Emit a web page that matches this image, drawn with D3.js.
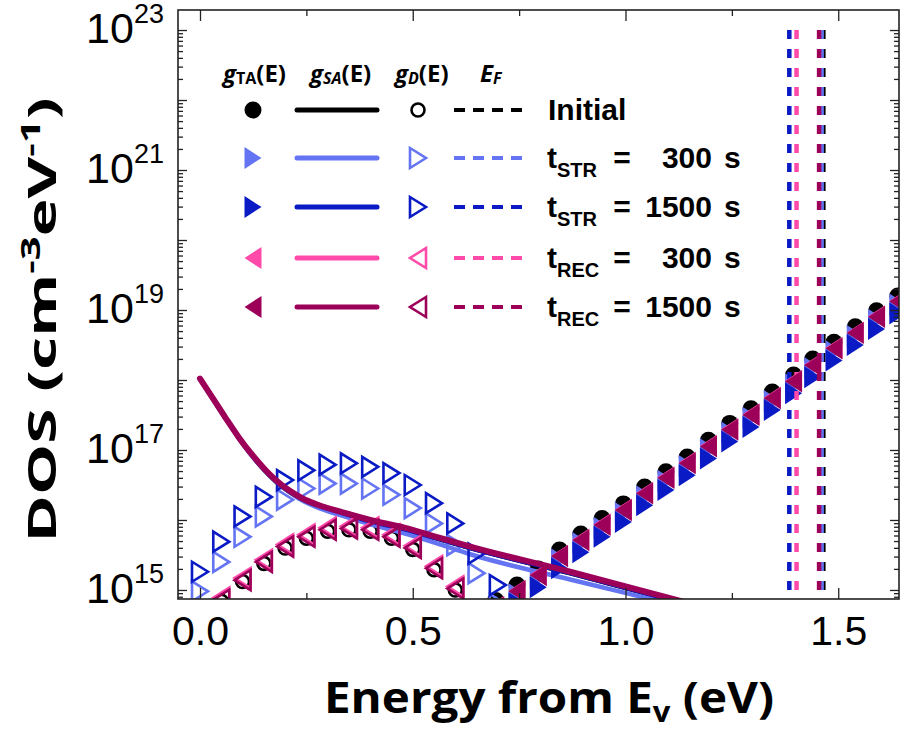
<!DOCTYPE html>
<html><head><meta charset="utf-8">
<script src="https://cdn.jsdelivr.net/npm/d3@7"></script>
<style>body{margin:0;background:#fff}svg{display:block}</style>
</head><body>
<svg id="c" width="908" height="738"></svg>
<script>
// ---------------- DATA (log10 of DOS, cm^-3 eV^-1) ----------------
const seriesKeys = ["Initial", "STR300", "STR1500", "REC300", "REC1500"];
const seriesSub = ["", "STR", "STR", "REC", "REC"];
const seriesTime = ["", "300", "1500", "300", "1500"];
// Fermi level positions (eV)
const efEnergy = [1.465, 1.461, 1.385, 1.402, 1.455];

// g_SA(E): shallow acceptor-like states (solid lines)
const saEnergy  = [0.00, 0.03, 0.06, 0.09, 0.12, 0.15, 0.18, 0.21, 0.24, 0.28, 0.33, 0.40, 0.48, 0.555, 0.635, 0.87, 1.10, 1.20];
const saInitial = [18.01, 17.73, 17.45, 17.18, 16.93, 16.71, 16.53, 16.39, 16.28, 16.18, 16.09, 15.97, 15.86, 15.73, 15.59, 15.23, 14.86, 14.70];
const saSTR300  = [18.02, 17.73, 17.45, 17.18, 16.93, 16.72, 16.54, 16.40, 16.28, 16.17, 16.07, 15.94, 15.81, 15.67, 15.51, 15.15, 14.81, 14.66];
const saSTR1500 = [18.02, 17.74, 17.46, 17.19, 16.94, 16.73, 16.55, 16.41, 16.30, 16.20, 16.11, 15.98, 15.87, 15.74, 15.60, 15.24, 14.87, 14.71];
const saREC300  = [18.02, 17.74, 17.46, 17.19, 16.95, 16.74, 16.56, 16.42, 16.31, 16.21, 16.12, 16.00, 15.89, 15.76, 15.62, 15.26, 14.89, 14.73];
const saREC1500 = [18.02, 17.74, 17.46, 17.19, 16.95, 16.74, 16.56, 16.42, 16.31, 16.21, 16.12, 16.00, 15.89, 15.76, 15.62, 15.26, 14.89, 14.73];

// g_D(E): deep states (open markers)
const dEnergy = [0.00, 0.05, 0.10, 0.15, 0.20, 0.25, 0.30, 0.35, 0.40, 0.45, 0.50, 0.55, 0.60, 0.65, 0.70];
const dInitial = [14.53, 14.84, 15.12, 15.38, 15.60, 15.74, 15.84, 15.86, 15.84, 15.74, 15.58, 15.29, 15.00, 14.66, 14.28];
const dSTR300  = [14.98, 15.40, 15.76, 16.05, 16.29, 16.45, 16.52, 16.52, 16.45, 16.36, 16.17, 15.95, 15.64, 15.24, 14.80];
const dSTR1500 = [15.26, 15.69, 16.05, 16.33, 16.57, 16.71, 16.79, 16.81, 16.76, 16.67, 16.50, 16.24, 15.95, 15.52, 15.07];
const dREC300  = [14.58, 14.89, 15.17, 15.43, 15.65, 15.79, 15.89, 15.91, 15.89, 15.79, 15.63, 15.34, 15.05, 14.71, 14.33];
const dREC1500 = [14.55, 14.86, 15.14, 15.40, 15.62, 15.76, 15.86, 15.88, 15.86, 15.76, 15.60, 15.31, 15.02, 14.68, 14.30];

// g_TA(E): tail states (filled markers)
const taEnergy = [0.695, 0.745, 0.795, 0.845, 0.895, 0.945, 0.995, 1.045, 1.095, 1.145, 1.195, 1.245, 1.295, 1.345, 1.395, 1.44, 1.49, 1.54, 1.59, 1.64];
const taInitial = [14.85, 15.07, 15.30, 15.57, 15.80, 16.02, 16.23, 16.47, 16.69, 16.90, 17.14, 17.38, 17.59, 17.83, 18.07, 18.30, 18.54, 18.76, 18.99, 19.20];
const taSTR300  = [14.71, 14.94, 15.17, 15.44, 15.67, 15.89, 16.10, 16.34, 16.56, 16.77, 17.01, 17.25, 17.46, 17.70, 17.94, 18.17, 18.41, 18.63, 18.86, 19.08];
const taSTR1500 = [14.58, 14.81, 15.04, 15.31, 15.54, 15.76, 15.97, 16.21, 16.43, 16.64, 16.88, 17.12, 17.33, 17.57, 17.81, 18.04, 18.28, 18.50, 18.73, 18.95];
const taREC300  = [14.76, 14.99, 15.22, 15.49, 15.72, 15.94, 16.15, 16.39, 16.61, 16.82, 17.06, 17.30, 17.51, 17.75, 17.99, 18.22, 18.46, 18.68, 18.91, 19.13];
const taREC1500 = [14.75, 14.98, 15.21, 15.48, 15.71, 15.93, 16.14, 16.38, 16.60, 16.81, 17.05, 17.29, 17.50, 17.74, 17.98, 18.21, 18.45, 18.67, 18.90, 19.12];

const xTicks = [0, 0.5, 1.0, 1.5];
const xMinorTicks = [0.25, 0.75, 1.25];
const yLabelExps = [15, 17, 19, 21, 23];

// ---------------- STYLE ----------------
const colors = ["#000000", "#6474f2", "#0a1ac4", "#ff4aaa", "#9c0058"];
const markerKind = ["circle", "right", "right", "left", "left"];

const saSets = [saInitial, saSTR300, saSTR1500, saREC300, saREC1500];
const dSets = [dInitial, dSTR300, dSTR1500, dREC300, dREC1500];
const taSets = [taInitial, taSTR300, taSTR1500, taREC300, taREC1500];

const svg = d3.select("#c");
const L = 178, R = 899, T = 10, B = 599;
const x = d3.scaleLinear().domain([-0.0517, 1.6428]).range([L, R]);
const y = d3.scaleLog().domain([Math.pow(10, 14.871), Math.pow(10, 23.286)]).range([B, T]);

svg.append("defs").append("clipPath").attr("id", "clip")
  .append("rect").attr("x", L).attr("y", T).attr("width", R - L).attr("height", B - T);

function markerPath(kind, w, h) {
  if (kind === "right") return `M${-w/2},${-h/2}L${w/2},0L${-w/2},${h/2}Z`;
  return `M${w/2},${-h/2}L${-w/2},0L${w/2},${h/2}Z`;
}
function drawMarker(g, kind, cx, cy, color, filled) {
  if (kind === "circle") {
    g.append("circle").attr("cx", cx).attr("cy", cy).attr("r", filled ? 8.5 : 6.5)
      .attr("fill", filled ? color : "none").attr("stroke", color).attr("stroke-width", filled ? 0 : 2.6);
  } else {
    const w = filled ? 17 : 16, h = filled ? 22 : 20;
    g.append("path").attr("d", markerPath(kind, w, h)).attr("transform", `translate(${cx},${cy})`)
      .attr("fill", filled ? color : "none").attr("stroke", color)
      .attr("stroke-width", filled ? 0 : 2.6).attr("stroke-linejoin", "miter");
  }
}

const plot = svg.append("g").attr("clip-path", "url(#clip)");
const line = d3.line().x(d => x(d[0])).y(d => y(Math.pow(10, d[1]))).curve(d3.curveMonotoneX);

seriesKeys.forEach((k, i) => {
  const gi = plot.append("g");
  taEnergy.forEach((e, j) => drawMarker(gi, markerKind[i], x(e), y(Math.pow(10, taSets[i][j])), colors[i], true));
  gi.append("path").datum(saEnergy.map((e, j) => [e, saSets[i][j]]))
    .attr("d", line).attr("fill", "none").attr("stroke", colors[i])
    .attr("stroke-width", i === 0 ? 3.5 : (i === 4 ? 6 : 4.5)).attr("stroke-linecap", "round");
  dEnergy.forEach((e, j) => drawMarker(gi, markerKind[i], x(e), y(Math.pow(10, dSets[i][j])), colors[i], false));
  gi.append("line").attr("x1", x(efEnergy[i])).attr("x2", x(efEnergy[i]))
    .attr("y1", y(1e23)).attr("y2", B)
    .attr("stroke", colors[i]).attr("stroke-width", 4.5).attr("stroke-dasharray", "9,10");
});

// ---------------- AXES ----------------
function styleAxis(g) {
  g.select(".domain").remove();
  g.selectAll(".tick line").attr("stroke", "#222").attr("stroke-width", 1.3);
}
svg.append("g").attr("transform", `translate(0,${B})`)
  .call(d3.axisBottom(x).tickValues(xTicks).tickSizeInner(-11).tickSizeOuter(0).tickPadding(17).tickFormat(d3.format(".1f")))
  .call(styleAxis)
  .call(g => g.selectAll("text").attr("font-family", "'Liberation Sans', Arial, sans-serif").attr("font-size", 41).attr("fill", "#000"));
svg.append("g").attr("transform", `translate(0,${B})`)
  .call(d3.axisBottom(x).tickValues(xMinorTicks).tickSizeInner(-6).tickSizeOuter(0).tickFormat(""))
  .call(styleAxis);
svg.append("g").attr("transform", `translate(0,${T})`)
  .call(d3.axisTop(x).tickValues(xTicks).tickSizeInner(-11).tickSizeOuter(0).tickFormat(""))
  .call(styleAxis);
svg.append("g").attr("transform", `translate(0,${T})`)
  .call(d3.axisTop(x).tickValues(xMinorTicks).tickSizeInner(-6).tickSizeOuter(0).tickFormat(""))
  .call(styleAxis);

const majorY = d3.range(15, 24).map(e => Math.pow(10, e));
const minorY = [];
d3.range(14, 24).forEach(e => d3.range(2, 10).forEach(m => {
  const v = m * Math.pow(10, e);
  if (v > y.domain()[0] && v < y.domain()[1]) minorY.push(v);
}));
svg.append("g").attr("transform", `translate(${L},0)`)
  .call(d3.axisLeft(y).tickValues(majorY).tickSizeInner(-9).tickSizeOuter(0).tickFormat(""))
  .call(styleAxis);
svg.append("g").attr("transform", `translate(${L},0)`)
  .call(d3.axisLeft(y).tickValues(minorY).tickSizeInner(-5).tickSizeOuter(0).tickFormat(""))
  .call(styleAxis);
svg.append("g").attr("transform", `translate(${R},0)`)
  .call(d3.axisRight(y).tickValues(majorY).tickSizeInner(-9).tickSizeOuter(0).tickFormat(""))
  .call(styleAxis);
svg.append("g").attr("transform", `translate(${R},0)`)
  .call(d3.axisRight(y).tickValues(minorY).tickSizeInner(-5).tickSizeOuter(0).tickFormat(""))
  .call(styleAxis);

yLabelExps.forEach(e => {
  const t = svg.append("text").attr("x", 164).attr("y", y(Math.pow(10, e)) + 13)
    .attr("text-anchor", "end").attr("font-family", "'Liberation Sans', Arial, sans-serif").attr("fill", "#000");
  t.append("tspan").attr("font-size", 43).text("10");
  t.append("tspan").attr("font-size", 27).attr("dy", -20).text(String(e));
});

svg.append("rect").attr("x", L).attr("y", T).attr("width", R - L).attr("height", B - T)
  .attr("fill", "none").attr("stroke", "#222").attr("stroke-width", 1.6);

// axis titles
const yt = svg.append("text").attr("transform", "translate(56,320) rotate(-90)")
  .attr("text-anchor", "middle").attr("font-family", "'Open Sans', sans-serif").attr("font-weight", 700)
  .attr("font-size", 40).attr("fill", "#000")
  .attr("textLength", 445).attr("lengthAdjust", "spacingAndGlyphs");
yt.append("tspan").text("DOS (cm");
yt.append("tspan").attr("font-size", 26).attr("dy", -16).text("-3");
yt.append("tspan").attr("dy", 16).text("eV");
yt.append("tspan").attr("font-size", 26).attr("dy", -16).text("-1");
yt.append("tspan").attr("dy", 16).text(")");

const xt = svg.append("text").attr("x", 549).attr("y", 713).attr("text-anchor", "middle")
  .attr("font-family", "'Open Sans', sans-serif").attr("font-weight", 700).attr("font-size", 43).attr("fill", "#000")
  .attr("textLength", 450).attr("lengthAdjust", "spacingAndGlyphs");
xt.append("tspan").text("Energy from E");
xt.append("tspan").attr("font-size", 28).attr("dy", 9).text("v");
xt.append("tspan").attr("dy", -9).text(" (eV)");

// ---------------- LEGEND ----------------
const lg = svg.append("g");
const hdrFont = "'Open Sans', sans-serif";
function header(xp, main, sub, subItalic, tail) {
  const t = lg.append("text").attr("x", xp).attr("y", 82).attr("font-family", hdrFont)
    .attr("font-weight", 700).attr("font-size", 24).attr("fill", "#000");
  t.append("tspan").attr("font-style", "italic").text(main);
  t.append("tspan").attr("font-size", 16).attr("font-style", subItalic ? "italic" : "normal").attr("dy", 2).text(sub);
  if (tail) t.append("tspan").attr("dy", -2).text(tail);
}
header(223, "g", "TA", false, "(E)");
header(310, "g", "SA", true, "(E)");
header(395, "g", "D", true, "(E)");
header(480, "E", "F", true, "");

const rowY = [110, 158, 207, 258, 307];
const lf = "'Liberation Sans', Arial, sans-serif";
seriesKeys.forEach((k, i) => {
  const yy = rowY[i];
  drawMarker(lg, markerKind[i], 253, yy, colors[i], true);
  lg.append("line").attr("x1", 297).attr("x2", 377).attr("y1", yy).attr("y2", yy)
    .attr("stroke", colors[i]).attr("stroke-width", 5).attr("stroke-linecap", "round");
  drawMarker(lg, markerKind[i], 418, yy, colors[i], false);
  lg.append("line").attr("x1", 454).attr("x2", 524).attr("y1", yy).attr("y2", yy)
    .attr("stroke", colors[i]).attr("stroke-width", 4).attr("stroke-dasharray", "11,8");
  if (i === 0) {
    lg.append("text").attr("x", 548).attr("y", yy + 10).attr("font-family", lf).attr("font-weight", 700)
      .attr("font-size", 30).attr("fill", "#000").text(k);
  } else {
    const t = lg.append("text").attr("x", 547).attr("y", yy + 10).attr("font-family", lf).attr("font-weight", 700)
      .attr("font-size", 30).attr("fill", "#000");
    t.append("tspan").text("t");
    t.append("tspan").attr("font-size", 20).attr("dy", 9).text(seriesSub[i]);
    lg.append("text").attr("x", 622).attr("y", yy + 10).attr("text-anchor", "middle").attr("font-family", lf)
      .attr("font-weight", 700).attr("font-size", 30).attr("fill", "#000").text("=");
    lg.append("text").attr("x", 712).attr("y", yy + 10).attr("text-anchor", "end").attr("font-family", lf)
      .attr("font-weight", 700).attr("font-size", 30).attr("fill", "#000").text(seriesTime[i]);
    lg.append("text").attr("x", 724).attr("y", yy + 10).attr("font-family", lf)
      .attr("font-weight", 700).attr("font-size", 30).attr("fill", "#000").text("s");
  }
});
</script>
</body></html>
